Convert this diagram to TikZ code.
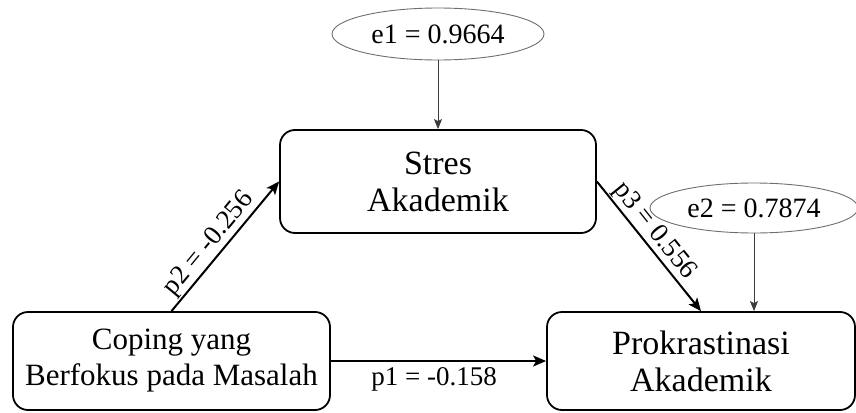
\documentclass[tikz,border=0pt]{standalone}
\usepackage{fontspec}
\setmainfont{Liberation Serif}
\usetikzlibrary{arrows.meta,shapes.geometric}
\definecolor{line_gray}{RGB}{60,60,60}
\definecolor{oval_gray}{RGB}{110,110,110}

\begin{document}
\begin{tikzpicture}[->,>={Stealth[length=13pt,width=11pt,inset=3pt]},x=1pt,y=-1pt]
    \tikzstyle{var}=[draw=black, line width=1.8pt, rounded corners=15pt, align=center, text=black, inner sep=0pt, font=\fontsize{34}{37}\selectfont]
    \tikzstyle{err}=[draw=oval_gray, line width=0.9pt, ellipse, minimum width=212pt, minimum height=52pt, inner sep=0pt, text=black, font=\fontsize{28}{30}\selectfont]
    \tikzstyle{coef}=[line width=2pt, draw=black]
    \tikzstyle{res}=[line width=1pt, draw=line_gray, -{Stealth[length=10pt,width=8pt,inset=2pt]}]
    \tikzstyle{lbl}=[font=\fontsize{27}{30}\selectfont, text=black, inner sep=1pt]

    \useasboundingbox (0,0) rectangle (856,412);

    \node[err] (e1)    at (438,34)      {e1 = 0.9664};
    \node[err, minimum width=208pt, minimum height=50pt] (e2) at (754,208) {e2 = 0.7874};
    \node[var, minimum width=316pt, minimum height=103pt] (stres) at (438,181.5) {Stres\\Akademik};
    \node[var, minimum width=317pt, minimum height=98pt, font=\fontsize{31}{36}\selectfont] (cope) at (171.5,361) {Coping yang\\Berfokus pada Masalah};
    \node[var, minimum width=308pt, minimum height=98pt] (prok) at (701,361) {Prokrastinasi\\Akademik};
    \path
     (e1)    edge[res]  (stres)
     (e2.south) edge[res] (e2.south |- prok.north)
     (cope.north) edge[coef] node[lbl, sloped, above, pos=0.45] {p2 = -0.256} (stres.west)
     (stres.east) edge[coef] node[lbl, sloped, above, pos=0.45] {p3 = 0.556} (prok.north)
     (cope)  edge[coef] node[lbl, below=2pt, inner sep=4pt, pos=0.48] {p1 = -0.158} (prok)
     ;
  \end{tikzpicture}
\end{document}
